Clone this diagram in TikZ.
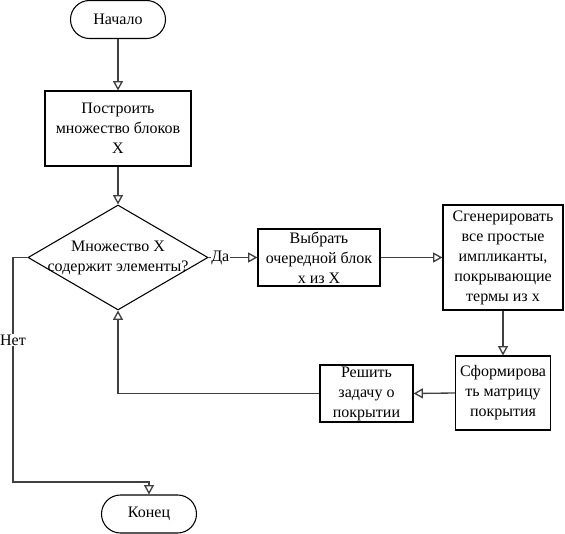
\documentclass[tikz,border=0pt]{standalone}
\usepackage{fontspec}
\setmainfont{Liberation Serif}
\usetikzlibrary{arrows.meta,shapes.geometric,shapes.misc}

\tikzset{every picture/.style={line width=0.8pt}}
\tikzset{
	blok/.style={draw, rectangle, inner sep=0pt, align=center, font=\fontsize{12}{15}\selectfont},
	term/.style={draw, rounded rectangle, inner sep=0pt, minimum width=71.25pt, minimum height=28.5pt, font=\fontsize{12}{15}\selectfont},
	vybor/.style={draw, diamond, inner sep=0pt, minimum width=135pt, minimum height=78.75pt},
	metka/.style={fill=white, inner sep=0.5pt, font=\fontsize{12}{15}\selectfont},
	strelka/.style={draw=black!75, line width=1pt, -{Triangle[open,length=7pt,width=7.5pt]}},
}

\begin{document}
\begin{tikzpicture}[x=0.75pt,y=0.75pt,yscale=-1,xscale=1]
	\useasboundingbox (0,0) rectangle (565,534);

	%Shape: Terminator
	\node [term] (start) at (118,19.5) {Начало};
	%Shape: Rectangle
	\node [blok, minimum width=109.5pt, minimum height=56.25pt] (build) at (118,128.5) {Построить\\множество блоков\\X};
	%Shape: Diamond
	\node [vybor, label={[align=center, font=\fontsize{12}{15}\selectfont]center:Множество X\\содержит элементы?}] (cond) at (118,257.5) {};
	%Shape: Rectangle
	\node [blok, minimum width=91.5pt, minimum height=42.75pt] (pick) at (319,257.5) {Выбрать\\очередной блок\\x из X};
	%Shape: Rectangle
	\node [blok, minimum width=90pt, minimum height=78.75pt] (gen) at (503,257.5) {Сгенерировать\\все простые\\импликанты,\\покрывающие\\термы из x};
	%Shape: Rectangle
	\node [blok, minimum width=71.25pt, minimum height=55.5pt] (form) at (503,393) {Сформирова\\ть матрицу\\покрытия};
	%Shape: Rectangle
	\node [blok, minimum width=69.75pt, minimum height=42.75pt] (solve) at (366.5,393.5) {Решить\\задачу о\\покрытии};
	%Shape: Terminator
	\node [term] (end) at (149,514) {Конец};

	\coordinate (nobend) at (13,482);

	%Straight Lines
	\draw [strelka] (start.south) -- (build.north);
	\draw [strelka] (build.south) -- (cond.north);
	\draw [strelka] (cond.east) -- node [metka, pos=0.24] (da) {Да} (pick.west);
	\draw [strelka] (pick.east) -- (gen.west);
	\draw [strelka] (gen.south) -- (form.north);
	\draw [strelka] (form.west) -- (solve.east);
	\draw [strelka] (solve.west) -| (cond.south);
	\draw [strelka] (cond.west) -| node [metka, pos=0.684] (net) {Нет} (nobend) -| (end.north);

\end{tikzpicture}
\end{document}
